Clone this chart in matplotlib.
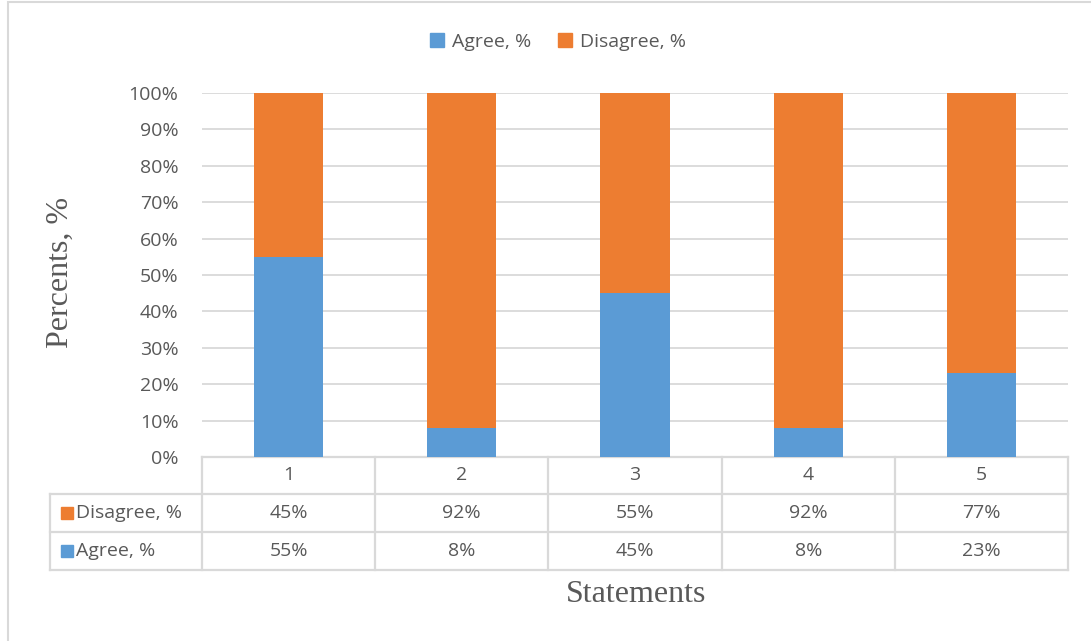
import matplotlib
matplotlib.use('Agg')
import matplotlib.pyplot as plt
from matplotlib.patches import Patch, Rectangle

statements = ['1', '2', '3', '4', '5']
agree = [55, 8, 45, 8, 23]
disagree = [45, 92, 55, 92, 77]
series_names = ['Agree, %', 'Disagree, %']

blue = '#5B9BD5'
orange = '#ED7D31'
grey_txt = '#595959'
grid_col = '#D9D9D9'
sans = ['Open Sans', 'DejaVu Sans']
serif = ['Liberation Serif', 'DejaVu Serif']
fs = 14

W, H = 1091, 641
fig = plt.figure(figsize=(W / 100, H / 100), dpi=100)
ax = fig.add_axes([202 / W, 1 - 457 / H, (1068 - 202) / W, (457 - 93) / H])

x = list(range(len(statements)))
ax.bar(x, agree, width=0.4, color=blue, zorder=3)
ax.bar(x, disagree, width=0.4, bottom=agree, color=orange, zorder=3)

ax.set_xlim(-0.5, len(statements) - 0.5)
ax.set_ylim(0, 100)
ax.set_yticks(range(0, 101, 10))
ax.set_yticklabels([f'{v}%' for v in range(0, 101, 10)], fontsize=fs,
                   color=grey_txt, family=sans)
ax.tick_params(axis='y', length=0, pad=17)
ax.set_xticks([])
for s in ax.spines.values():
    s.set_visible(False)
for v in range(10, 101, 10):
    ax.axhline(v, color=grid_col, lw=1.3, zorder=1)

# data table under the plot
tr = ax.get_xaxis_transform()
col_px = (1068 - 202) / len(statements)
left_edge = -0.5 - (202 - 50) / col_px
row_y = [0, -37 / 364, -75 / 364, -113 / 364]
lkw = dict(color=grid_col, lw=1.6, transform=tr, clip_on=False, zorder=2)
ax.plot([-0.5, 4.5], [row_y[0]] * 2, **lkw)
for yy in row_y[1:]:
    ax.plot([left_edge, 4.5], [yy] * 2, **lkw)
for i in range(len(statements) + 1):
    ax.plot([i - 0.5] * 2, [row_y[0], row_y[3]], **lkw)
ax.plot([left_edge] * 2, [row_y[1], row_y[3]], **lkw)

tkw = dict(transform=tr, ha='center', va='center', fontsize=fs,
           color=grey_txt, family=sans)
for i, lab in enumerate(statements):
    ax.text(i, (row_y[0] + row_y[1]) / 2, lab, **tkw)
    ax.text(i, (row_y[1] + row_y[2]) / 2, f'{disagree[i]}%', **tkw)
    ax.text(i, (row_y[2] + row_y[3]) / 2, f'{agree[i]}%', **tkw)

sq_x = -0.5 - (202 - 67.5) / col_px
lab_x = -0.5 - (202 - 76) / col_px
for yc, name, c in [((row_y[1] + row_y[2]) / 2, series_names[1], orange),
                    ((row_y[2] + row_y[3]) / 2, series_names[0], blue)]:
    ax.plot([sq_x], [yc], marker='s', ms=8, color=c, transform=tr,
            clip_on=False, zorder=4)
    ax.text(lab_x, yc, name, transform=tr, ha='left', va='center',
            fontsize=fs, color=grey_txt, family=sans)

# axis titles
fig.text(60 / W, 1 - 272 / H, 'Percents, %', rotation=90, ha='center',
         va='center', fontsize=23, color=grey_txt, family=serif)
fig.text(636 / W, 1 - 595 / H, 'Statements', ha='center', va='center',
         fontsize=23, color=grey_txt, family=serif)

# legend
handles = [Patch(color=blue, label=series_names[0]),
           Patch(color=orange, label=series_names[1])]
fig.legend(handles=handles, loc='center', bbox_to_anchor=(558 / W, 1 - 42 / H),
           ncol=2, frameon=False, handlelength=0.7, handleheight=0.7,
           handletextpad=0.4, columnspacing=1.4,
           prop={'family': sans, 'size': fs}, labelcolor=grey_txt)

# chart frame
fig.patches.append(Rectangle((7.5 / W, -0.1), 1.2, 1 + 0.1 - 2.5 / H,
                             transform=fig.transFigure, fill=False,
                             edgecolor=grid_col, lw=1.5))

fig.savefig('out.png', dpi=100)
